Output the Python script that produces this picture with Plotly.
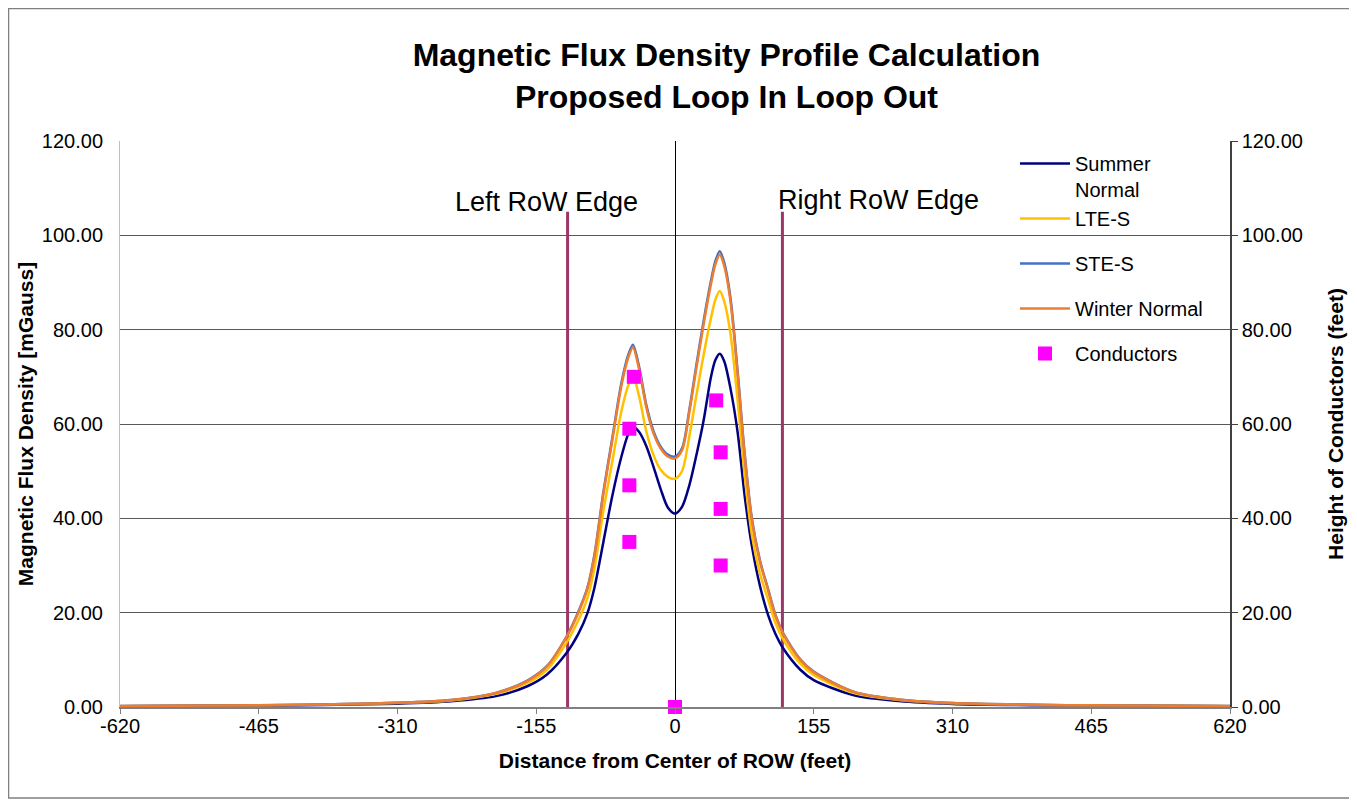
import plotly.graph_objects as go

# ---- data ----
distance_ft = [-620, -465, -310, -250, -200, -165, -143, -121, -108, -98, -90, -80, -70, -60, -52, -47,
               -40, -32, -24, -16, -8, 0, 8, 16, 24, 32, 40, 45, 50, 55, 62, 70, 78, 86, 95, 104,
               112, 121, 140, 155, 200, 250, 310, 465, 620]

summer_normal = [0.15, 0.27, 0.7, 1.2, 2.3, 4.4, 6.9, 11.5, 15.5, 19.8, 25.3, 35.0, 44.8, 53.0, 58.0, 59.4,
                 58.3, 55.3, 50.9, 46.2, 42.3, 41.0, 42.5, 47.0, 53.5, 60.8, 69.8, 73.5, 74.9, 73.3, 67.5,
                 58.2, 44.5, 34.0, 25.6, 19.5, 15.6, 12.4, 7.9, 5.7, 2.5, 1.25, 0.65, 0.27, 0.15]

lte_s = [0.18, 0.32, 0.83, 1.4, 2.8, 5.1, 7.9, 13.7, 18.4, 23.0, 29.4, 41.6, 52.1, 62.6, 68.3, 70.1,
         65.8, 58.4, 53.4, 50.3, 48.8, 48.4, 50.1, 57.4, 66.2, 74.7, 82.3, 86.3, 88.2, 86.0, 79.1,
         64.9, 48.8, 36.3, 28.2, 22.8, 17.9, 14.3, 9.2, 6.8, 2.95, 1.47, 0.78, 0.32, 0.18]

ste_s = [0.2, 0.35, 0.9, 1.5, 3.0, 5.6, 8.7, 15.0, 20.2, 25.2, 32.3, 45.6, 57.1, 68.6, 74.8, 76.8,
         72.1, 64.0, 58.5, 55.2, 53.5, 53.1, 54.9, 63.0, 72.6, 81.9, 90.2, 94.5, 96.6, 94.2, 86.7,
         71.1, 53.4, 39.8, 31.0, 25.0, 19.7, 15.6, 10.1, 7.5, 3.2, 1.6, 0.85, 0.35, 0.2]

winter_normal = [0.2, 0.35, 0.9, 1.5, 3.0, 5.5, 8.6, 14.9, 20.0, 25.0, 32.0, 45.2, 56.6, 68.0, 74.2, 76.2,
                 71.5, 63.5, 58.0, 54.8, 53.1, 52.7, 54.5, 62.5, 72.0, 81.2, 89.5, 93.8, 95.9, 93.5, 86.0,
                 70.5, 53.0, 39.5, 30.7, 24.8, 19.5, 15.5, 10.0, 7.4, 3.2, 1.6, 0.85, 0.35, 0.2]

conductor_x = [-46, -51, -51, -51, 0, 46, 51, 51, 51]
conductor_height = [70, 59, 47, 35, 0, 65, 54, 42, 30]

row_edge_x = [-120, 120]
row_edge_top = 105
row_labels = ["Left RoW Edge", "Right RoW Edge"]
row_label_x = [-144, 227]
row_label_y = [107, 107.5]

x_ticks = [-620, -465, -310, -155, 0, 155, 310, 465, 620]
y_ticks = [0, 20, 40, 60, 80, 100, 120]

FONT = "Liberation Sans, Arial, sans-serif"

# page has an 8px body margin: figure is offset by 8px
W, H = 1349, 797
L, T = 112, 133
PW, PH = 1110, 566
R = W - L - PW
B = H - T - PH

fig = go.Figure()

for xe in row_edge_x:
    fig.add_trace(go.Scatter(x=[xe, xe], y=[0, row_edge_top], mode="lines",
                             line=dict(color="#9B3768", width=3), showlegend=False,
                             hoverinfo="skip"))

series = [
    ("Summer<br>Normal", summer_normal, "#000080", "g1"),
    ("LTE-S", lte_s, "#FFC000", "g1"),
    ("STE-S", ste_s, "#4472C4", "g2"),
    ("Winter Normal", winter_normal, "#ED7D31", "g3"),
]
for name, vals, col, grp in series:
    fig.add_trace(go.Scatter(x=distance_ft, y=vals, mode="lines", name=name,
                             legendgroup=grp,
                             line=dict(color=col, width=2.5, shape="spline", smoothing=0.8)))

fig.add_trace(go.Scatter(x=conductor_x, y=conductor_height, mode="markers", name="Conductors",
                         legendgroup="g4", yaxis="y2", cliponaxis=False,
                         marker=dict(symbol="square", size=14, color="#FF00FF")))

for txt, lx, ly in zip(row_labels, row_label_x, row_label_y):
    fig.add_annotation(x=lx, y=ly, text=txt, showarrow=False, xanchor="center", yanchor="middle",
                       font=dict(family=FONT, size=27, color="black"))

# outer chart border
fig.add_shape(type="rect", xref="paper", yref="paper",
              x0=(0.5 - L) / PW, x1=(1343 - L) / PW,
              y0=(T + PH - 790) / PH, y1=(T + PH - 0.5) / PH,
              line=dict(color="#808080", width=1.5), fillcolor="rgba(0,0,0,0)", layer="below")

fig.update_layout(
    width=W, height=H,
    margin=dict(l=L, r=R, t=T, b=B),
    paper_bgcolor="white", plot_bgcolor="white",
    font=dict(family=FONT, color="black", size=20),
    title=dict(text="<b>Magnetic Flux Density Profile Calculation<br>Proposed Loop In Loop Out</b>",
               x=718.5 / W, xanchor="center", y=1 - 58 / H, yanchor="top", yref="container",
               font=dict(family=FONT, size=32, color="black")),
    xaxis=dict(range=[-620, 620], tickvals=x_ticks, ticktext=[str(v) for v in x_ticks],
               showgrid=False, zeroline=True, zerolinecolor="black", zerolinewidth=1,
               showline=True, linecolor="#808080", linewidth=2,
               ticks="outside", ticklen=5, tickcolor="#808080", ticklabelstandoff=-5,
               tickfont=dict(size=20),
               title=dict(text="<b>Distance from Center of ROW (feet)</b>", font=dict(size=21), standoff=17)),
    yaxis=dict(range=[0, 120], tickvals=y_ticks, tickformat=".2f",
               showgrid=True, gridcolor="#595959", gridwidth=1, zeroline=False,
               showline=True, linecolor="#BFBFBF", linewidth=1, ticks="", ticklabelstandoff=12,
               tickfont=dict(size=20),
               title=dict(text="<b>Magnetic Flux Density [mGauss]</b>", font=dict(size=21), standoff=2)),
    yaxis2=dict(range=[0, 120], tickvals=y_ticks, tickformat=".2f", overlaying="y", side="right",
                showgrid=False, zeroline=False, showline=True, linecolor="#404040", linewidth=1.5,
                ticks="outside", ticklen=6, tickcolor="#404040",
                tickfont=dict(size=20),
                title=dict(text="<b>Height of Conductors (feet)</b>", font=dict(size=21), standoff=26)),
    legend=dict(x=(1007 - L) / PW, y=(T + PH - 136) / PH, xanchor="left", yanchor="top",
                bgcolor="rgba(0,0,0,0)", font=dict(family=FONT, size=20, color="black"),
                traceorder="grouped", tracegroupgap=16, valign="top", itemwidth=50),
    showlegend=True,
)

fig.write_html("out.html")
